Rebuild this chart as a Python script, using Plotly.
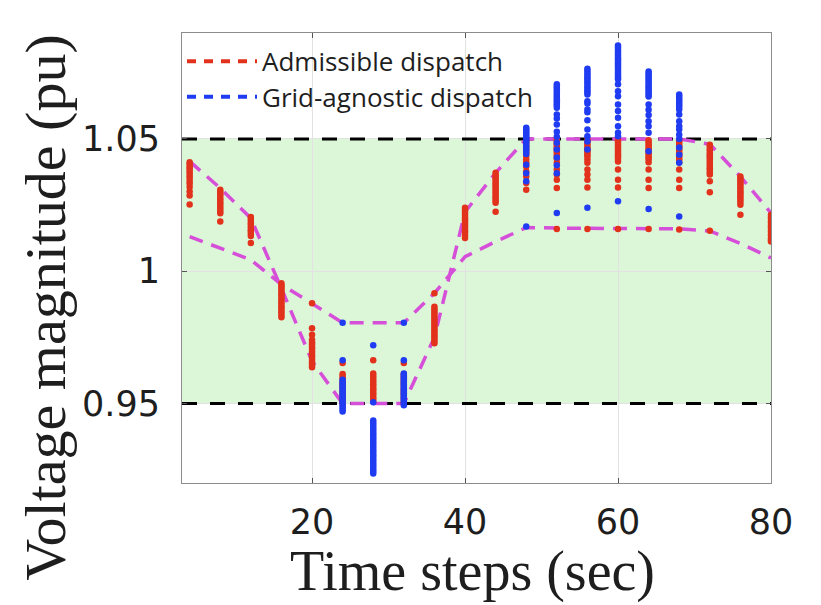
import plotly.graph_objects as go

# ---------------- data ----------------
T = [4, 8, 12, 16, 20, 24, 28, 32, 36, 40, 44, 48, 52, 56, 60, 64, 68, 72, 76, 80]

# magenta envelope curves
curve_a = [1.0415, 1.0314, 1.0200, 0.9935, 0.9660, 0.9500, 0.9500, 0.9500, 0.9750, 1.0224,
           1.0372, 1.0500, 1.0500, 1.0500, 1.0500, 1.0500, 1.0500, 1.0480, 1.0358, 1.0220]
curve_b = [1.0131, 1.0087, 1.0043, 0.9950, 0.9879, 0.9805, 0.9805, 0.9805, 0.9917, 1.0055,
           1.0112, 1.0165, 1.0163, 1.0163, 1.0163, 1.0163, 1.0160, 1.0152, 1.0105, 1.0050]

V_MIN, V_MAX = 0.95, 1.05
X_RANGE = [3, 80]
Y_RANGE = [0.92, 1.09]
X_TICKS = [20, 40, 60, 80]
Y_TICKS = [0.95, 1.0, 1.05]
Y_TICK_TEXT = ["0.95", "1", "1.05"]

# admissible dispatch (red) node voltages per time step
r04 = [1.0412, 1.0404, 1.0395, 1.0388, 1.0379, 1.0371, 1.0361, 1.0352, 1.0341, 1.0331, 1.0318, 1.0301, 1.0286, 1.0252]
r08 = [1.0308, 1.0301, 1.0292, 1.0285, 1.0276, 1.0267, 1.0259, 1.0252, 1.0243, 1.0235, 1.0227, 1.0219, 1.0188]
r12 = [1.0205, 1.0197, 1.0190, 1.0181, 1.0175, 1.0166, 1.0157, 1.0151, 1.0142, 1.0133, 1.0107]
r16 = [0.9955, 0.9947, 0.9940, 0.9933, 0.9924, 0.9915, 0.9909, 0.9900, 0.9891, 0.9884, 0.9876, 0.9867,
       0.9860, 0.9851, 0.9844, 0.9835, 0.9826]
r20 = [0.9879, 0.9785, 0.9760, 0.9741, 0.9731, 0.9724, 0.9715, 0.9708, 0.9699, 0.9692, 0.9683, 0.9676,
       0.9668, 0.9659, 0.9652, 0.9644, 0.9637]
r24 = [0.9653, 0.9612, 0.9604, 0.9597, 0.9588, 0.9579, 0.9572, 0.9563, 0.9556, 0.9547, 0.9540, 0.9531,
       0.9524, 0.9515, 0.9508, 0.9500]
r28 = [0.9664, 0.9614, 0.9605, 0.9598, 0.9589, 0.9582, 0.9573, 0.9566, 0.9557, 0.9550, 0.9541, 0.9534,
       0.9525, 0.9518, 0.9511]
r32 = [0.9653, 0.9612, 0.9603, 0.9596, 0.9587, 0.9580, 0.9571, 0.9564, 0.9555, 0.9548, 0.9539, 0.9532,
       0.9523, 0.9516, 0.9507, 0.9500]
r36 = [0.9917, 0.9866, 0.9857, 0.9850, 0.9841, 0.9834, 0.9825, 0.9818, 0.9809, 0.9801, 0.9793, 0.9785,
       0.9776, 0.9769, 0.9760, 0.9753, 0.9745, 0.9736, 0.9728]
r40 = [1.0240, 1.0232, 1.0225, 1.0216, 1.0209, 1.0200, 1.0193, 1.0184, 1.0177, 1.0168, 1.0160, 1.0151,
       1.0144, 1.0135, 1.0126]
r44 = [1.0372, 1.0364, 1.0357, 1.0348, 1.0341, 1.0332, 1.0325, 1.0316, 1.0309, 1.0300, 1.0292, 1.0283,
       1.0276, 1.0267, 1.0259, 1.0225]
r48 = [1.0495, 1.0485, 1.0472, 1.0460, 1.0447, 1.0435, 1.0422, 1.0410, 1.0396, 1.0377, 1.0358, 1.0333,
       1.0308]
r52 = [1.0500, 1.0492, 1.0484, 1.0476, 1.0468, 1.0460, 1.0452, 1.0444, 1.0436, 1.0425, 1.0410, 1.0384,
       1.0365, 1.0346, 1.0314, 1.0160]
r56 = [1.0498, 1.0490, 1.0482, 1.0474, 1.0466, 1.0458, 1.0450, 1.0442, 1.0434, 1.0422, 1.0410, 1.0384,
       1.0365, 1.0346, 1.0316, 1.0160]
r60 = [1.0495, 1.0488, 1.0481, 1.0474, 1.0466, 1.0458, 1.0450, 1.0442, 1.0434, 1.0426, 1.0415, 1.0384,
       1.0346, 1.0316, 1.0160]
r64 = [1.0495, 1.0487, 1.0479, 1.0471, 1.0463, 1.0455, 1.0447, 1.0439, 1.0431, 1.0423, 1.0412, 1.0384,
       1.0346, 1.0314, 1.0160]
r68 = [1.0495, 1.0487, 1.0478, 1.0470, 1.0462, 1.0455, 1.0446, 1.0438, 1.0430, 1.0422, 1.0412, 1.0384,
       1.0346, 1.0314, 1.0158]
r72 = [1.0478, 1.0470, 1.0462, 1.0455, 1.0446, 1.0438, 1.0431, 1.0422, 1.0414, 1.0406, 1.0398, 1.0389,
       1.0382, 1.0373, 1.0365, 1.0340, 1.0298, 1.0153]
r76 = [1.0358, 1.0350, 1.0343, 1.0334, 1.0327, 1.0318, 1.0311, 1.0302, 1.0295, 1.0286, 1.0279, 1.0270,
       1.0262, 1.0251, 1.0213]
r80 = [1.0213, 1.0205, 1.0198, 1.0189, 1.0182, 1.0173, 1.0166, 1.0157, 1.0150, 1.0141, 1.0134, 1.0125,
       1.0118, 1.0112]

RED = [r04, r08, r12, r16, r20, r24, r28, r32, r36, r40, r44, r48, r52, r56, r60, r64, r68, r72, r76, r80]

# grid-agnostic dispatch (blue) node voltages, time steps where they differ
BLUE_T = [24, 28, 32, 48, 52, 56, 60, 64, 68]
b24 = [0.9805, 0.9664, 0.9590, 0.9582, 0.9574, 0.9566, 0.9558, 0.9550, 0.9542, 0.9534, 0.9526, 0.9518,
       0.9510, 0.9502, 0.9494, 0.9486, 0.9478, 0.9470]
b28 = [0.9720, 0.9505, 0.9436, 0.9428, 0.9420, 0.9412, 0.9404, 0.9396, 0.9388, 0.9380, 0.9372, 0.9364,
       0.9356, 0.9348, 0.9340, 0.9332, 0.9324, 0.9316, 0.9308, 0.9300, 0.9292, 0.9284, 0.9276, 0.9268,
       0.9260, 0.9252, 0.9244, 0.9236]
b32 = [0.9805, 0.9664, 0.9614, 0.9606, 0.9598, 0.9590, 0.9582, 0.9574, 0.9566, 0.9558, 0.9550, 0.9542,
       0.9534, 0.9526, 0.9518, 0.9510, 0.9502, 0.9494]
b48 = [1.0542, 1.0536, 1.0530, 1.0524, 1.0518, 1.0512, 1.0506, 1.0500, 1.0494, 1.0486, 1.0478, 1.0470,
       1.0462, 1.0453, 1.0443, 1.0402, 1.0370, 1.0340, 1.0169]
b52 = [1.0706, 1.0698, 1.0690, 1.0682, 1.0674, 1.0666, 1.0658, 1.0650, 1.0642, 1.0634, 1.0626, 1.0618,
       1.0592, 1.0577, 1.0554, 1.0527, 1.0508, 1.0485, 1.0460, 1.0430, 1.0400, 1.0370, 1.0220]
b56 = [1.0765, 1.0757, 1.0749, 1.0741, 1.0733, 1.0725, 1.0717, 1.0709, 1.0700, 1.0692, 1.0684, 1.0676,
       1.0668, 1.0642, 1.0634, 1.0611, 1.0601, 1.0570, 1.0535, 1.0510, 1.0490, 1.0460, 1.0240]
b60 = [1.0853, 1.0845, 1.0837, 1.0829, 1.0821, 1.0813, 1.0805, 1.0797, 1.0789, 1.0781, 1.0773, 1.0765,
       1.0757, 1.0749, 1.0741, 1.0733, 1.0725, 1.0706, 1.0680, 1.0661, 1.0630, 1.0605, 1.0580, 1.0548,
       1.0523, 1.0510, 1.0264]
b64 = [1.0755, 1.0747, 1.0739, 1.0731, 1.0723, 1.0715, 1.0707, 1.0699, 1.0691, 1.0683, 1.0675, 1.0667,
       1.0660, 1.0630, 1.0610, 1.0590, 1.0567, 1.0548, 1.0523, 1.0453, 1.0235]
b68 = [1.0668, 1.0660, 1.0652, 1.0644, 1.0636, 1.0628, 1.0620, 1.0611, 1.0592, 1.0567, 1.0548, 1.0535,
       1.0516, 1.0500, 1.0467, 1.0440, 1.0410, 1.0207]
BLUE = [b24, b28, b32, b48, b52, b56, b60, b64, b68]

# ---------------- styles ----------------
RED_C = "#e2321c"
BLUE_C = "#1f3cf2"
MAG_C = "#d64fd8"
GREEN_C = "rgb(220,247,216)"
TXT_C = "#1e1e1e"

red_x = [t for t, vals in zip(T, RED) for _ in vals]
red_y = [v for vals in RED for v in vals]
blue_x = [t for t, vals in zip(BLUE_T, BLUE) for _ in vals]
blue_y = [v for vals in BLUE for v in vals]

fig = go.Figure()

fig.add_shape(type="rect", xref="paper", x0=0, x1=1, yref="y", y0=V_MIN, y1=V_MAX,
              fillcolor=GREEN_C, line_width=0, layer="below")

for lim in (V_MIN, V_MAX):
    fig.add_trace(go.Scatter(x=X_RANGE, y=[lim, lim], mode="lines",
                             line=dict(color="black", width=3, dash="15px,13px"),
                             showlegend=False, hoverinfo="skip"))

for curve in (curve_a, curve_b):
    fig.add_trace(go.Scatter(x=T, y=curve, mode="lines",
                             line=dict(color=MAG_C, width=3.5, dash="14px,9px"),
                             showlegend=False, hoverinfo="skip"))

fig.add_trace(go.Scatter(x=red_x, y=red_y, mode="markers",
                         marker=dict(color=RED_C, size=6.5, line=dict(width=0)),
                         showlegend=False))
fig.add_trace(go.Scatter(x=blue_x, y=blue_y, mode="markers",
                         marker=dict(color=BLUE_C, size=6.5, line=dict(width=0)),
                         showlegend=False))

# legend entries
fig.add_trace(go.Scatter(x=[None], y=[None], mode="lines", name="Admissible dispatch",
                         line=dict(color=RED_C, width=4, dash="9px,8px"), legend="legend"))
fig.add_trace(go.Scatter(x=[None], y=[None], mode="lines", name="Grid-agnostic dispatch",
                         line=dict(color=BLUE_C, width=4, dash="9px,8px"), legend="legend2"))

leg_common = dict(font=dict(family="Open Sans, Lato, sans-serif", size=26, color=TXT_C),
                  bgcolor="rgba(0,0,0,0)", borderwidth=0, itemwidth=70,
                  xanchor="left", yanchor="middle")
fig.update_layout(
    legend=dict(x=0.0, y=0.937, **leg_common),
    legend2=dict(x=0.0, y=0.858, **leg_common),
)

fig.update_xaxes(range=X_RANGE, tickvals=X_TICKS, showgrid=True, gridcolor="#e2e2e2", gridwidth=1,
                 zeroline=False, showline=True, linecolor="#8c8c8c", linewidth=1, mirror="ticks",
                 ticks="inside", ticklen=5, tickcolor="#555", automargin=False,
                 tickfont=dict(family="DejaVu Sans", size=35, color=TXT_C), ticklabelstandoff=8)
fig.update_yaxes(range=Y_RANGE, tickvals=Y_TICKS, ticktext=Y_TICK_TEXT, showgrid=True,
                 gridcolor="#e2e2e2", gridwidth=1, zeroline=False, showline=True,
                 linecolor="#8c8c8c", linewidth=1, mirror="ticks", ticks="inside", ticklen=5,
                 tickcolor="#555", automargin=False,
                 tickfont=dict(family="DejaVu Sans", size=35, color=TXT_C), ticklabelstandoff=14)

fig.add_annotation(text="Time steps (sec)", xref="paper", yref="paper", x=0.493, y=-0.197,
                   xanchor="center", yanchor="middle", showarrow=False,
                   font=dict(family="Liberation Serif", size=56, color=TXT_C))
fig.add_annotation(text="Voltage magnitude (pu)", xref="paper", yref="paper", x=-0.232, y=0.39,
                   xanchor="center", yanchor="middle", showarrow=False, textangle=-90,
                   font=dict(family="Liberation Serif", size=58, color=TXT_C))

# the page body adds an 8 px offset, so the figure is sized to fit the 821x605 window
fig.update_layout(width=813, height=597, margin=dict(l=174, r=50, t=25, b=122),
                  plot_bgcolor="white", paper_bgcolor="white")

fig.write_html("out.html")
